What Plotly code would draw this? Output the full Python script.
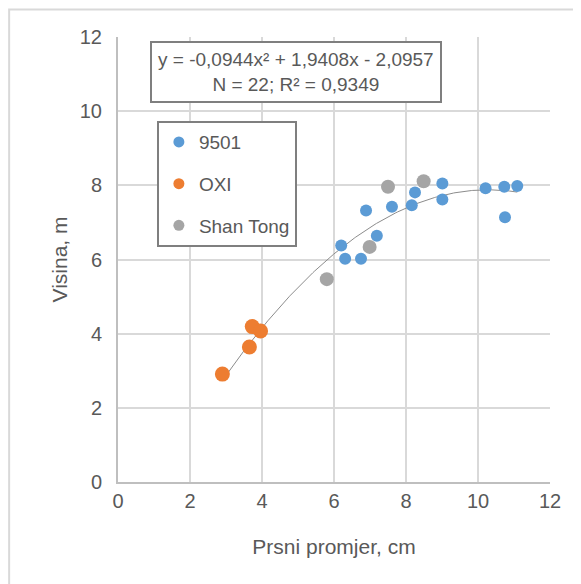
import numpy as np
import plotly.graph_objects as go

# Data
x_9501 = [6.89, 7.61, 8.16, 8.25, 9.01, 9.01, 10.21, 10.73, 11.09, 10.75, 6.20, 6.31, 6.75, 7.19]
y_9501 = [7.32, 7.42, 7.46, 7.81, 8.05, 7.62, 7.92, 7.96, 7.98, 7.14, 6.38, 6.02, 6.02, 6.64]
x_oxi = [2.90, 3.65, 3.73, 3.96]
y_oxi = [2.91, 3.64, 4.19, 4.07]
x_shan = [7.50, 8.49, 6.99, 5.80]
y_shan = [7.96, 8.11, 6.34, 5.47]
trend_coef = [-0.0944, 1.9408, -2.0957]
x_ticks = [0, 2, 4, 6, 8, 10, 12]
y_ticks = [0, 2, 4, 6, 8, 10, 12]
series_names = ["9501", "OXI", "Shan Tong"]
series_colors = ["#5B9BD5", "#ED7D31", "#A5A5A5"]

FONT = "Liberation Sans, Arial, sans-serif"
TXT = "#595959"

all_x = x_9501 + x_oxi + x_shan
xt = np.linspace(min(all_x), max(all_x), 200)
yt = np.polyval(trend_coef, xt)

fig = go.Figure()
fig.add_trace(go.Scatter(x=xt, y=yt, mode="lines", line=dict(color="#8c8c8c", width=1),
                         showlegend=False, hoverinfo="skip"))
for xs, ys, c, s in [(x_9501, y_9501, series_colors[0], 12),
                     (x_oxi, y_oxi, series_colors[1], 15),
                     (x_shan, y_shan, series_colors[2], 14)]:
    fig.add_trace(go.Scatter(x=xs, y=ys, mode="markers", showlegend=False,
                             marker=dict(color=c, size=s)))
# legend entries
for i, (n, c) in enumerate(zip(series_names, series_colors)):
    fig.add_trace(go.Scatter(x=[None], y=[None], mode="markers", name=n, legendgroup=str(i),
                             marker=dict(color=c, size=11)))

eq = "y = -0,0944x² + 1,9408x - 2,0957<br>N = 22; R² = 0,9349"

fig.update_layout(
    width=573, height=576,
    margin=dict(l=110, r=31, t=29, b=102, autoexpand=False),
    paper_bgcolor="white", plot_bgcolor="white",
    font=dict(family=FONT, size=19, color=TXT),
    xaxis=dict(range=[0, 12], tickvals=x_ticks, showgrid=True, gridcolor="#d9d9d9", gridwidth=2,
               showline=True, linecolor="#bfbfbf", linewidth=2, zeroline=False, automargin=False,
               ticks="", title=dict(text="Prsni promjer, cm", font=dict(size=21), standoff=28),
               tickfont=dict(size=20, color=TXT)),
    yaxis=dict(range=[0, 12], tickvals=y_ticks, showgrid=True, gridcolor="#d9d9d9", gridwidth=2,
               showline=True, linecolor="#bfbfbf", linewidth=2, zeroline=False, automargin=False,
               ticks="", ticklabelstandoff=10,
               title=dict(text="Visina, m", font=dict(size=21), standoff=6),
               tickfont=dict(size=20, color=TXT)),
    legend=dict(x=0.09, y=0.811, xanchor="left", yanchor="top", bgcolor="white",
                bordercolor="#7f7f7f", borderwidth=2, font=dict(size=19, color=TXT),
                tracegroupgap=14, itemwidth=30),
    showlegend=True,
    annotations=[dict(text=eq, x=0.412, y=0.921, xref="paper", yref="paper", showarrow=False,
                      xanchor="center", yanchor="middle", align="center",
                      bordercolor="#7f7f7f", borderwidth=2, borderpad=6, bgcolor="white",
                      font=dict(size=19, color=TXT))],
    shapes=[dict(type="rect", xref="paper", yref="paper", x0=-0.252, x1=1.2, y0=-0.3, y1=1.062,
                 line=dict(color="#d9d9d9", width=2), layer="below")],
)

fig.write_html("out.html")
